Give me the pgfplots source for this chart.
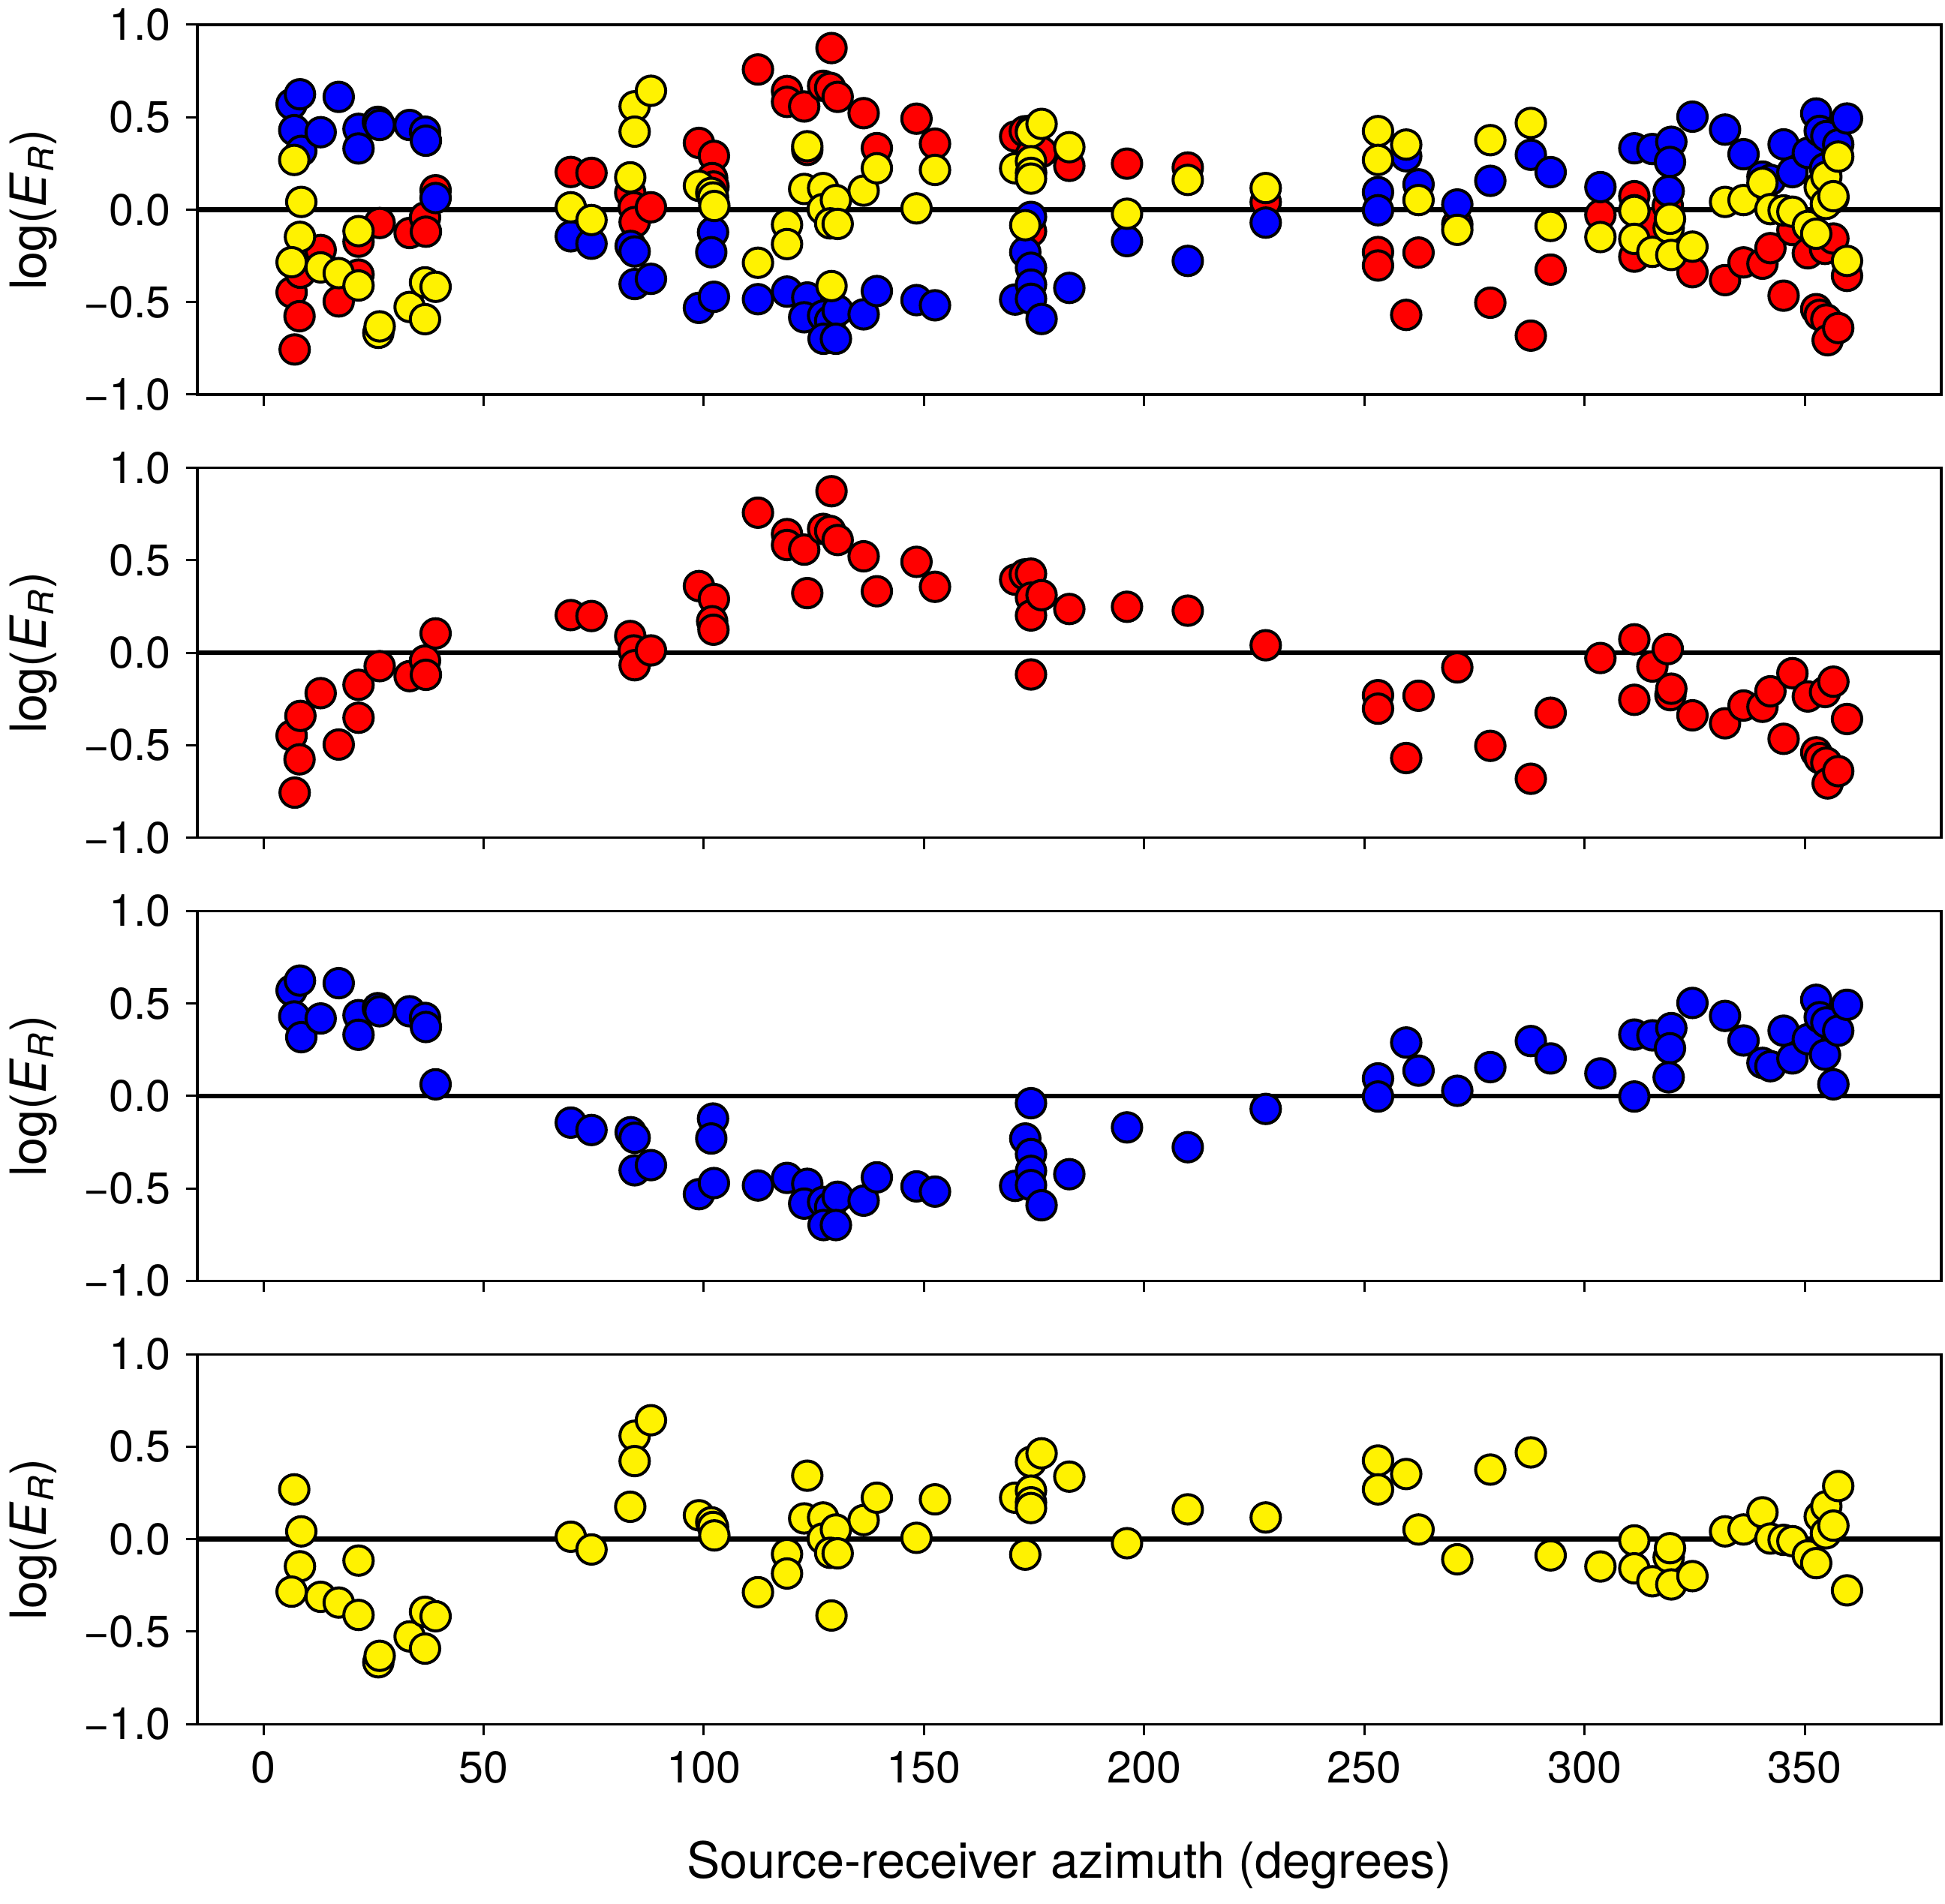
\documentclass[border=0pt]{standalone}
\usepackage{fontspec}
\setmainfont{TeX Gyre Heros}
\usepackage{pgfplots}
\usepackage{pgfplotstable}
\pgfplotsset{compat=1.18}
\newcommand{\tickfont}{\fontsize{14.8}{16}\selectfont}
\newcommand{\labfont}{\fontsize{16.6}{19}\selectfont}

\pgfplotstableread{
x y
7.1 -0.756
6.4 -0.447
8.4 -0.341
8.2 -0.576
13.0 -0.218
17.1 -0.496
21.6 -0.173
21.6 -0.351
26.4 -0.072
33.2 -0.126
36.7 -0.042
36.9 -0.119
39.1 0.105
69.8 0.204
74.5 0.199
83.3 0.091
84.1 0.013
84.3 -0.067
88.0 0.013
98.9 0.361
102.3 0.291
101.9 0.171
102.2 0.125
112.3 0.758
118.9 0.642
118.9 0.583
122.8 0.558
123.5 0.323
127.1 0.670
128.7 0.659
129.0 0.874
130.4 0.610
136.3 0.522
139.3 0.333
148.3 0.492
152.5 0.357
170.7 0.396
172.9 0.424
174.3 0.428
174.3 0.298
174.3 0.202
176.7 0.312
183.0 0.237
174.3 -0.117
196.1 0.249
209.9 0.228
227.6 0.041
253.1 -0.229
253.1 -0.302
259.5 -0.569
262.3 -0.232
271.1 -0.079
278.6 -0.503
287.8 -0.681
292.3 -0.324
303.6 -0.028
311.3 0.073
311.3 -0.254
315.4 -0.074
318.9 0.020
319.5 -0.229
319.7 -0.194
324.5 -0.338
331.9 -0.381
336.1 -0.285
340.4 -0.292
342.2 -0.208
347.2 -0.110
345.2 -0.465
350.7 -0.236
354.6 -0.212
356.5 -0.156
359.6 -0.358
352.6 -0.538
353.4 -0.569
354.9 -0.594
355.2 -0.706
357.6 -0.640
}\redtab

\pgfplotstableread{
x y
6.4 0.571
8.3 0.624
17.1 0.610
7.0 0.430
8.6 0.318
13.0 0.419
21.6 0.437
21.6 0.331
26.0 0.475
26.4 0.458
33.2 0.458
36.7 0.422
36.9 0.373
39.1 0.063
69.8 -0.144
74.5 -0.184
83.4 -0.196
84.3 -0.226
84.3 -0.402
88.0 -0.374
102.1 -0.122
101.7 -0.230
98.9 -0.531
102.3 -0.471
112.3 -0.484
118.9 -0.443
123.5 -0.475
122.8 -0.582
127.1 -0.573
128.7 -0.601
130.4 -0.545
127.2 -0.698
130.0 -0.698
136.3 -0.566
139.3 -0.440
148.3 -0.489
152.5 -0.517
170.7 -0.486
173.0 -0.230
174.3 -0.314
174.3 -0.405
174.3 -0.482
176.7 -0.591
183.0 -0.423
174.3 -0.039
196.1 -0.170
209.9 -0.277
227.6 -0.070
253.1 0.095
253.1 -0.003
259.5 0.289
262.3 0.137
271.1 0.028
278.6 0.156
287.8 0.297
292.3 0.203
303.6 0.122
311.3 0.332
311.3 -0.003
315.4 0.328
319.7 0.367
319.4 0.258
319.1 0.101
324.5 0.503
331.9 0.433
336.1 0.300
340.4 0.179
342.2 0.161
345.2 0.353
347.2 0.203
350.7 0.307
352.6 0.520
353.4 0.426
354.9 0.398
354.6 0.223
357.6 0.353
359.6 0.493
356.5 0.063
}\bluetab

\pgfplotstableread{
x y
7.0 0.269
8.6 0.042
8.3 -0.147
6.4 -0.284
13.0 -0.312
17.1 -0.343
21.6 -0.116
21.6 -0.410
26.1 -0.666
26.4 -0.631
33.2 -0.526
36.7 -0.393
39.1 -0.417
36.7 -0.592
69.8 0.013
74.5 -0.056
84.3 0.559
88.0 0.643
84.3 0.422
83.3 0.175
98.9 0.129
101.7 0.091
102.1 0.066
102.4 0.020
112.3 -0.287
118.9 -0.081
118.9 -0.186
123.5 0.343
122.8 0.112
127.1 0.117
127.0 0.003
130.0 0.052
128.7 -0.074
130.4 -0.077
129.0 -0.413
136.3 0.103
139.3 0.224
148.3 0.007
152.5 0.215
170.7 0.224
174.3 0.418
176.7 0.464
183.0 0.338
174.3 0.262
174.3 0.199
174.3 0.168
173.0 -0.084
196.1 -0.022
209.9 0.161
227.6 0.117
253.1 0.425
253.1 0.269
259.5 0.352
262.3 0.052
271.1 -0.109
278.6 0.376
287.8 0.469
292.3 -0.088
303.6 -0.148
311.3 -0.007
311.3 -0.158
315.4 -0.228
319.1 -0.098
319.4 -0.049
319.7 -0.245
324.5 -0.200
331.9 0.042
336.1 0.052
340.4 0.145
342.2 0.003
345.2 -0.004
347.2 -0.011
350.7 -0.088
352.6 -0.130
353.4 0.122
354.9 0.178
354.8 0.031
356.5 0.073
357.6 0.287
359.6 -0.277
}\yellowtab

\pgfplotsset{
  panel/.style={
    scale only axis, width=581pt, height=123.25pt,
    anchor=north west,
    xmin=-15, xmax=381, ymin=-1, ymax=1,
    xtick={0,50,100,150,200,250,300,350}, xticklabels={},
    ytick={-1,-0.5,0,0.5,1},
    yticklabels={−1.0,−0.5,0.0,0.5,1.0},
    minor tick num=0,
    tick align=outside, xtick pos=left, ytick pos=left,
    major tick length=3.75pt,
    every tick/.style={black, line width=0.75pt},
    axis line style={black, line width=0.8pt},
    ticklabel style={font=\tickfont},
    yticklabel shift=1.5pt,
    xticklabel shift=1.8pt,
    ylabel={log(\textit{E}\textsubscript{\textit{R}})},
    every axis y label/.style={at={(axis description cs:-0.0868,0.5)}, rotate=90, anchor=base, font=\labfont},
    every axis x label/.style={at={(axis description cs:0.5,-0.416)}, anchor=base, font=\labfont},
  },
  dots/.style={only marks, mark=*, mark size=4.9pt, line width=1pt, draw=black, fill=#1,
    mark options={draw=black, fill=#1, line width=1pt}},
  zero/.style={black, line width=1.6pt, forget plot},
}

\begin{document}
\begin{tikzpicture}
\useasboundingbox (-65.75pt,8.25pt) rectangle (582.25pt,-626.25pt);
\begin{axis}[panel, at={(0pt,0pt)}]
  \addplot[dots=red] table[x=x,y=y] {\redtab};
  \addplot[dots=blue] table[x=x,y=y] {\bluetab};
  \addplot[dots=yellow] table[x=x,y=y] {\yellowtab};
  \addplot[zero] coordinates {(-15,0) (381,0)};
\end{axis}
\begin{axis}[panel, at={(0pt,-147.675pt)}]
  \addplot[dots=red] table[x=x,y=y] {\redtab};
  \addplot[zero] coordinates {(-15,0) (381,0)};
\end{axis}
\begin{axis}[panel, at={(0pt,-295.35pt)}]
  \addplot[dots=blue] table[x=x,y=y] {\bluetab};
  \addplot[zero] coordinates {(-15,0) (381,0)};
\end{axis}
\begin{axis}[panel, at={(0pt,-443.025pt)},
  xticklabels={0,50,100,150,200,250,300,350},
  xlabel={Source-receiver azimuth (degrees)}]
  \addplot[dots=yellow] table[x=x,y=y] {\yellowtab};
  \addplot[zero] coordinates {(-15,0) (381,0)};
\end{axis}
\end{tikzpicture}
\end{document}
